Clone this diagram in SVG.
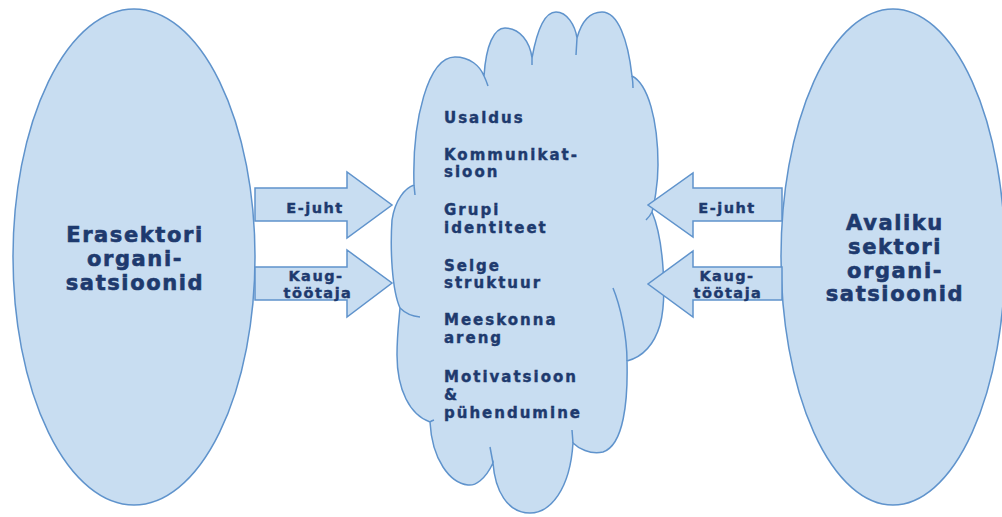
<svg xmlns="http://www.w3.org/2000/svg" width="1002" height="517" viewBox="0 0 1002 517">
<style>
.shape{fill:#c8ddf1;stroke:#5f93cc;stroke-width:1.5}
.tick{fill:none;stroke:#5f93cc;stroke-width:1.5}
.big{font-family:"DejaVu Sans",Verdana,sans-serif;font-weight:bold;font-size:21px;fill:#1e3a6e;stroke:#1e3a6e;stroke-width:0.6;letter-spacing:1.6px;text-anchor:middle}
.lab{font-family:"DejaVu Sans",Verdana,sans-serif;font-weight:bold;font-size:14.5px;fill:#1e3a6e;stroke:#1e3a6e;stroke-width:0.4;letter-spacing:1.5px;text-anchor:middle}
.item{font-family:"DejaVu Sans",Verdana,sans-serif;font-weight:bold;font-size:15px;fill:#1e3a6e;stroke:#1e3a6e;stroke-width:0.4;letter-spacing:2px}
</style>
<rect width="1002" height="517" fill="#ffffff"/>
<g id="node-erasektor">
<ellipse class="shape" cx="134" cy="257" rx="121" ry="248"/>
<text class="big" x="135" y="242">Erasektori</text>
<text class="big" x="135" y="266">organi-</text>
<text class="big" x="135" y="290">satsioonid</text>
</g>
<g id="node-avalik">
<ellipse class="shape" cx="893" cy="257" rx="112" ry="248"/>
<text class="big" x="895" y="230">Avaliku</text>
<text class="big" x="895" y="254">sektori</text>
<text class="big" x="895" y="278">organi-</text>
<text class="big" x="895" y="301">satsioonid</text>
</g>
<g id="node-cloud">
<path class="shape" d="M 414 185 C 412 120 428 57 455 57 C 470 57 480 66 484 76 C 486 45 494 28 505 28 C 520 28 530 42 532 58 C 537 30 545 12 556 12 C 567 12 575 25 577 38 C 582 20 590 12 602 12 C 618 12 628 40 632 76 C 648 84 658 120 658 165 C 658 185 654 205 652 212 C 664 240 667 300 660 325 C 654 345 642 357 627 361 C 628 400 624 445 603 452 C 590 455 578 448 573 443 C 570 490 550 513 530 513 C 507 513 495 490 493 463 C 485 480 475 486 468 485 C 450 483 432 460 430 422 C 410 415 397 390 397 355 C 397 335 399 320 400 308 C 392 290 390 250 392 220 C 395 200 405 188 414 185 Z"/>
<path class="tick" d="M 484 76 Q 486 80 488 86 M 532 58 L 532 65 M 577 38 L 576 55 M 632 76 Q 633 82 633 88 M 652 212 Q 650 216 646 220 M 627 361 C 627 335 620 305 613 288 M 573 443 L 572 430 M 493 463 L 490 447 M 430 422 Q 431 421 434 420 M 400 308 Q 408 316 420 317 M 414 185 L 415 195"/>
<text class="item" x="444" y="123">Usaldus</text>
<text class="item" x="444" y="160">Kommunikat-</text>
<text class="item" x="444" y="177">sioon</text>
<text class="item" x="444" y="215">Grupi</text>
<text class="item" x="444" y="233">identiteet</text>
<text class="item" x="444" y="271">Selge</text>
<text class="item" x="444" y="288">struktuur</text>
<text class="item" x="444" y="325">Meeskonna</text>
<text class="item" x="444" y="343">areng</text>
<text class="item" x="444" y="382">Motivatsioon</text>
<text class="item" x="444" y="400">&amp;</text>
<text class="item" x="444" y="418">pühendumine</text>
</g>
<g id="connectors">
<g id="arrow-left-ejuht">
<path class="shape" d="M 255 188 H 347 V 172 L 392 205 L 347 238 V 221 H 255 Z"/>
<text class="lab" x="315" y="213">E-juht</text>
</g>
<g id="arrow-left-kaug">
<path class="shape" d="M 255 267 H 347 V 250 L 392 283 L 347 317 V 300 H 255 Z"/>
<text class="lab" x="316" y="281">Kaug-</text>
<text class="lab" x="318" y="298">töötaja</text>
</g>
<g id="arrow-right-ejuht">
<path class="shape" d="M 782 188 H 693 V 173 L 648 205 L 693 237 V 221 H 782 Z"/>
<text class="lab" x="727" y="213">E-juht</text>
</g>
<g id="arrow-right-kaug">
<path class="shape" d="M 782 267 H 693 V 251 L 648 284 L 693 317 V 300 H 782 Z"/>
<text class="lab" x="727" y="281">Kaug-</text>
<text class="lab" x="728" y="298">töötaja</text>
</g>
</g>
</svg>
